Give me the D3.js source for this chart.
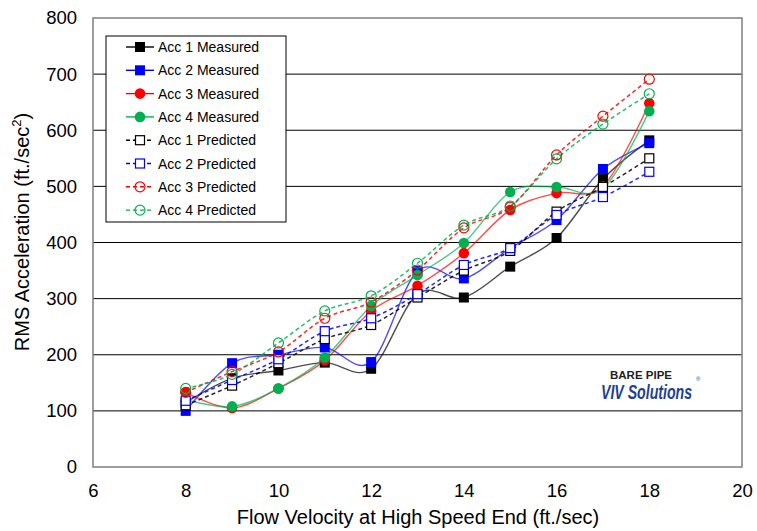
<!DOCTYPE html>
<html><head><meta charset="utf-8">
<script src="https://cdn.jsdelivr.net/npm/d3@7"></script>
<style>body{margin:0;background:#fff;}svg{display:block;font-family:"Liberation Sans",Arial,sans-serif;}</style>
</head><body><svg id="c" width="757" height="531"></svg>
<script>
const xVals = [8, 9, 10, 11, 12, 13, 14, 15, 16, 17, 18];
const acc1Measured = [115, 158, 172, 186, 175, 308, 302, 357, 408, 513, 582];
const acc2Measured = [100, 185, 200, 213, 187, 349, 336, 390, 440, 531, 577];
const acc3Measured = [133, 105, 140, 190, 278, 323, 381, 458, 488, 500, 648];
const acc4Measured = [120, 108, 140, 195, 287, 342, 399, 490, 499, 496, 634];
const acc1Predicted = [110, 145, 185, 228, 253, 302, 350, 385, 455, 499, 550];
const acc2Predicted = [118, 155, 192, 242, 265, 308, 360, 390, 449, 481, 526];
const acc3Predicted = [133, 170, 205, 265, 294, 351, 426, 463, 556, 625, 691];
const acc4Predicted = [140, 165, 221, 278, 305, 363, 431, 465, 549, 611, 665];
const seriesNames = ["Acc 1 Measured","Acc 2 Measured","Acc 3 Measured","Acc 4 Measured","Acc 1 Predicted","Acc 2 Predicted","Acc 3 Predicted","Acc 4 Predicted"];
const xTicks = [6, 8, 10, 12, 14, 16, 18, 20];
const yTicks = [0, 100, 200, 300, 400, 500, 600, 700, 800];

const colors = ["#000000", "#0000ff", "#ff0000", "#00b050"];
const series = [
  {name: seriesNames[0], vals: acc1Measured, c: colors[0], shape: "square", pred: false},
  {name: seriesNames[1], vals: acc2Measured, c: colors[1], shape: "square", pred: false},
  {name: seriesNames[2], vals: acc3Measured, c: colors[2], shape: "circle", pred: false},
  {name: seriesNames[3], vals: acc4Measured, c: colors[3], shape: "circle", pred: false},
  {name: seriesNames[4], vals: acc1Predicted, c: colors[0], shape: "square", pred: true},
  {name: seriesNames[5], vals: acc2Predicted, c: colors[1], shape: "square", pred: true},
  {name: seriesNames[6], vals: acc3Predicted, c: colors[2], shape: "circle", pred: true},
  {name: seriesNames[7], vals: acc4Predicted, c: colors[3], shape: "circle", pred: true}
];

const svg = d3.select("#c");
const L = 93, R = 742, T = 18, B = 467;
const x = d3.scaleLinear().domain([6, 20]).range([L, R]);
const y = d3.scaleLinear().domain([0, 800]).range([B, T]);

// gridlines
svg.append("g").selectAll("line").data(yTicks.filter(v => v > 0 && v < 800)).join("line")
  .attr("x1", L).attr("x2", R).attr("y1", d => y(d)).attr("y2", d => y(d))
  .attr("stroke", "#000").attr("stroke-width", 1);

// frame
svg.append("rect").attr("x", L).attr("y", T).attr("width", R - L).attr("height", B - T)
  .attr("fill", "none").attr("stroke", "#7f7f7f").attr("stroke-width", 1.5);

// axes (labels only)
const yAxis = svg.append("g").attr("transform", `translate(${L},0)`)
  .call(d3.axisLeft(y).tickValues(yTicks).tickSize(0).tickPadding(16));
yAxis.select(".domain").remove();
yAxis.selectAll("text").attr("font-size", 18.5).attr("fill", "#000").attr("font-family", "Liberation Sans, Arial, sans-serif");

const xAxis = svg.append("g").attr("transform", `translate(0,${B})`)
  .call(d3.axisBottom(x).tickValues(xTicks).tickSize(0).tickPadding(17));
xAxis.select(".domain").remove();
xAxis.selectAll("text").attr("font-size", 18.5).attr("fill", "#000").attr("font-family", "Liberation Sans, Arial, sans-serif");

// axis titles
svg.append("text").attr("x", 418).attr("y", 524).attr("text-anchor", "middle")
  .attr("font-size", 20).attr("fill", "#000").text("Flow Velocity at High Speed End (ft./sec)");
const yt = svg.append("text").attr("transform", "translate(29,232) rotate(-90)").attr("text-anchor", "middle")
  .attr("font-size", 20).attr("fill", "#000");
yt.append("tspan").text("RMS Acceleration (ft./sec");
yt.append("tspan").attr("font-size", 13).attr("dy", -8).text("2");
yt.append("tspan").attr("dy", 8).text(")");

// watermark
svg.append("text").attr("x", 641).attr("y", 379).attr("text-anchor", "middle")
  .attr("font-size", 11.5).attr("font-weight", "bold").attr("fill", "#231f20").text("BARE PIPE");
svg.append("text").attr("x", 601).attr("y", 399)
  .attr("font-size", 20).attr("font-weight", "bold").attr("font-style", "italic").attr("fill", "#1d3f94")
  .attr("textLength", 91).attr("lengthAdjust", "spacingAndGlyphs").text("VIV Solutions");
svg.append("text").attr("x", 696).attr("y", 381)
  .attr("font-size", 6).attr("fill", "#1d3f94").text("®");

// lines
const line = d3.line().x((d, i) => x(xVals[i])).y(d => y(d)).curve(d3.curveCardinal.tension(0));
const plot = svg.append("g");
series.forEach(s => {
  plot.append("path").datum(s.vals).attr("d", line).attr("fill", "none")
    .attr("stroke", s.c).attr("stroke-width", s.pred ? 1.5 : 1.4)
    .attr("stroke-opacity", s.pred ? 0.85 : 0.7)
    .attr("stroke-dasharray", s.pred ? "4,3" : null);
});

function drawMarker(g, s, cx, cy) {
  if (s.shape === "square") {
    const sz = s.pred ? 9 : 10;
    g.append("rect").attr("x", cx - sz / 2).attr("y", cy - sz / 2).attr("width", sz).attr("height", sz)
      .attr("fill", s.pred ? "#fff" : s.c).attr("stroke", s.pred ? s.c : "none").attr("stroke-width", 1.2);
  } else {
    g.append("circle").attr("cx", cx).attr("cy", cy).attr("r", s.pred ? 5 : 5.3)
      .attr("fill", s.pred ? "none" : s.c).attr("stroke", s.pred ? s.c : "none").attr("stroke-width", 1.2);
  }
}
series.forEach(s => {
  const g = plot.append("g");
  s.vals.forEach((v, i) => drawMarker(g, s, x(xVals[i]), y(v)));
});

// legend
const lg = svg.append("g");
lg.append("rect").attr("x", 106).attr("y", 36).attr("width", 180).attr("height", 186)
  .attr("fill", "#fff").attr("stroke", "#000").attr("stroke-width", 1);
series.forEach((s, i) => {
  const cy = 47 + i * 23.3;
  lg.append("line").attr("x1", 126).attr("x2", 154).attr("y1", cy).attr("y2", cy)
    .attr("stroke", s.c).attr("stroke-width", 1.4).attr("stroke-dasharray", s.pred ? "4,3" : null);
  drawMarker(lg, s, 140, cy);
  lg.append("text").attr("x", 158).attr("y", cy + 5).attr("font-size", 14).attr("fill", "#000").text(s.name);
});
</script></body></html>
